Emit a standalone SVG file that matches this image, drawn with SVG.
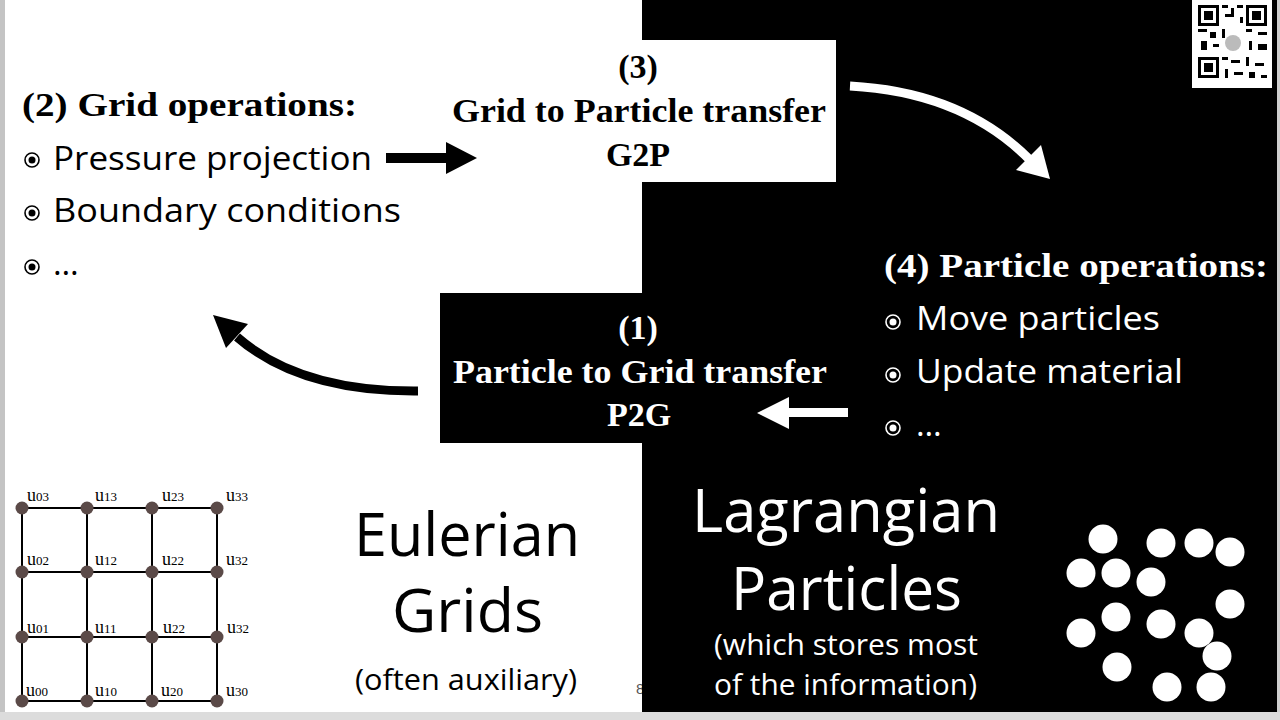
<svg xmlns="http://www.w3.org/2000/svg" width="1280" height="720" viewBox="0 0 1280 720">
<style>
.hb{font-family:"Liberation Serif",serif;font-weight:bold;font-size:34px}
.rg{font-family:"Open Sans","DejaVu Sans",sans-serif;font-size:33px}
.big{font-family:"Open Sans","DejaVu Sans",sans-serif;font-size:60px}
.sm{font-family:"Open Sans","DejaVu Sans",sans-serif;font-size:29px}
.u{font-family:"Liberation Serif",serif;font-size:18px;fill:#000}
.u tspan{font-size:13px}
.blk{fill:#000}
.wht{fill:#fff}
.gl{stroke:#000;stroke-width:2;fill:none}
.gn{fill:#5b4a48}
.bw{fill:none;stroke:#000;stroke-width:1.6}
.bwW{fill:none;stroke:#fff;stroke-width:1.6}
</style>
<rect x="0" y="0" width="1280" height="720" fill="#fff"/>
<rect x="0" y="0" width="5" height="720" fill="#c4c4c4"/>
<rect x="0" y="712" width="1280" height="8" fill="#dcdcdc"/>
<text x="636" y="694" font-family="Liberation Sans,sans-serif" font-size="15" fill="#555">8</text>
<rect id="lagrangian-bg" x="642" y="0" width="635" height="712" fill="#000"/>
<rect x="1277" y="0" width="3" height="712" fill="#cfcfcf"/>

<g id="qr">
<rect x="1192" y="0" width="80" height="88" fill="#fff"/>
<g fill="#000">
<rect x="1198" y="5" width="21" height="21"/><rect x="1201" y="8" width="15" height="15" fill="#fff"/><rect x="1204" y="11" width="9" height="9"/>
<rect x="1246" y="5" width="21" height="21"/><rect x="1249" y="8" width="15" height="15" fill="#fff"/><rect x="1252" y="11" width="9" height="9"/>
<rect x="1198" y="57" width="21" height="21"/><rect x="1201" y="60" width="15" height="15" fill="#fff"/><rect x="1204" y="63" width="9" height="9"/>
<rect x="1222" y="5" width="6" height="3"/><rect x="1231" y="8" width="3" height="6"/><rect x="1237" y="5" width="6" height="3"/><rect x="1225" y="14" width="9" height="3"/><rect x="1240" y="17" width="3" height="6"/>
<rect x="1198" y="29" width="9" height="3"/><rect x="1210" y="32" width="6" height="6"/><rect x="1222" y="29" width="3" height="9"/><rect x="1246" y="29" width="6" height="3"/><rect x="1258" y="32" width="9" height="3"/>
<rect x="1201" y="41" width="6" height="9"/><rect x="1213" y="44" width="6" height="3"/><rect x="1249" y="41" width="3" height="9"/><rect x="1258" y="44" width="9" height="6"/>
<rect x="1222" y="57" width="6" height="3"/><rect x="1231" y="60" width="9" height="3"/><rect x="1246" y="57" width="3" height="9"/><rect x="1255" y="63" width="9" height="3"/>
<rect x="1225" y="69" width="3" height="9"/><rect x="1234" y="72" width="9" height="3"/><rect x="1249" y="72" width="6" height="6"/><rect x="1261" y="75" width="6" height="3"/>
</g>
<circle cx="1233" cy="43" r="8" fill="#bbb"/>
</g>

<g id="connectors">
<rect x="386" y="153" width="61" height="10" class="blk"/>
<polygon points="446,142 477,158 446,174" class="blk"/>
<path d="M850,86 Q962,92 1029,159" fill="none" stroke="#fff" stroke-width="9"/>
<polygon points="1016,170 1041,145 1050,179" class="wht"/>
<path d="M418,391 Q300,392 237,337" fill="none" stroke="#000" stroke-width="9"/>
<polygon points="248,324 226,348 213,315" class="blk"/>
<rect x="788" y="408" width="60" height="9" class="wht"/>
<polygon points="789,397 757,413 789,429" class="wht"/>
</g>

<g id="grid-ops">
<text x="22" y="116" class="hb" textLength="335" lengthAdjust="spacingAndGlyphs">(2) Grid operations:</text>
<circle cx="32" cy="160" r="7" class="bw"/><circle cx="32" cy="160" r="3.5" class="blk"/>
<text x="53" y="170" class="rg" textLength="319" lengthAdjust="spacingAndGlyphs">Pressure projection</text>
<circle cx="32" cy="213" r="7" class="bw"/><circle cx="32" cy="213" r="3.5" class="blk"/>
<text x="53" y="222" class="rg" textLength="348" lengthAdjust="spacingAndGlyphs">Boundary conditions</text>
<circle cx="32" cy="267" r="7" class="bw"/><circle cx="32" cy="267" r="3.5" class="blk"/>
<text x="53" y="275" class="rg">…</text>
</g>

<g id="g2p">
<rect x="642" y="40" width="194" height="142" fill="#fff"/>
<text x="638" y="78" class="hb" text-anchor="middle">(3)</text>
<text x="452" y="122" class="hb" textLength="374" lengthAdjust="spacingAndGlyphs">Grid to Particle transfer</text>
<text x="638" y="166" class="hb" text-anchor="middle">G2P</text>
</g>

<g id="p2g">
<rect x="440" y="293" width="202" height="150" fill="#000"/>
<text x="638" y="339" class="hb wht" text-anchor="middle">(1)</text>
<text x="453" y="383" class="hb wht" textLength="374" lengthAdjust="spacingAndGlyphs">Particle to Grid transfer</text>
<text x="639" y="426" class="hb wht" text-anchor="middle">P2G</text>
</g>

<g id="particle-ops">
<text x="884" y="277" class="hb wht" textLength="384" lengthAdjust="spacingAndGlyphs">(4) Particle operations:</text>
<circle cx="893" cy="322" r="7" class="bwW"/><circle cx="893" cy="322" r="3.5" class="wht"/>
<text x="916" y="330" class="rg wht" textLength="244" lengthAdjust="spacingAndGlyphs">Move particles</text>
<circle cx="893" cy="375" r="7" class="bwW"/><circle cx="893" cy="375" r="3.5" class="wht"/>
<text x="916" y="383" class="rg wht" textLength="267" lengthAdjust="spacingAndGlyphs">Update material</text>
<circle cx="893" cy="428" r="7" class="bwW"/><circle cx="893" cy="428" r="3.5" class="wht"/>
<text x="916" y="436" class="rg wht">…</text>
</g>

<g id="eulerian-label">
<text x="354" y="556" class="big" textLength="226" lengthAdjust="spacingAndGlyphs">Eulerian</text>
<text x="392" y="632" class="big" textLength="151" lengthAdjust="spacingAndGlyphs">Grids</text>
<text x="355" y="690" class="sm" textLength="222" lengthAdjust="spacingAndGlyphs">(often auxiliary)</text>
</g>

<g id="lagrangian-label" fill="#fff">
<text x="692" y="532" class="big" textLength="308" lengthAdjust="spacingAndGlyphs">Lagrangian</text>
<text x="731" y="610" class="big" textLength="231" lengthAdjust="spacingAndGlyphs">Particles</text>
<text x="714" y="655" class="sm" textLength="264" lengthAdjust="spacingAndGlyphs">(which stores most</text>
<text x="714" y="695" class="sm" textLength="263" lengthAdjust="spacingAndGlyphs">of the information)</text>
</g>

<g id="grid">
<path class="gl" d="M22,508H217M22,572H217M22,637H217M22,701H217M22,508V701M87,508V701M152,508V701M217,508V701"/>
<g class="gn">
<circle cx="22" cy="508" r="6.5"/><circle cx="87" cy="508" r="6.5"/><circle cx="152" cy="508" r="6.5"/><circle cx="217" cy="508" r="6.5"/>
<circle cx="22" cy="572" r="6.5"/><circle cx="87" cy="572" r="6.5"/><circle cx="152" cy="572" r="6.5"/><circle cx="217" cy="572" r="6.5"/>
<circle cx="22" cy="637" r="6.5"/><circle cx="87" cy="637" r="6.5"/><circle cx="152" cy="637" r="6.5"/><circle cx="217" cy="637" r="6.5"/>
<circle cx="22" cy="701" r="6.5"/><circle cx="87" cy="701" r="6.5"/><circle cx="152" cy="701" r="6.5"/><circle cx="217" cy="701" r="6.5"/>
</g>
<text x="27" y="501" class="u">u<tspan>03</tspan></text>
<text x="95" y="501" class="u">u<tspan>13</tspan></text>
<text x="162" y="501" class="u">u<tspan>23</tspan></text>
<text x="226" y="501" class="u">u<tspan>33</tspan></text>
<text x="27" y="565" class="u">u<tspan>02</tspan></text>
<text x="95" y="565" class="u">u<tspan>12</tspan></text>
<text x="162" y="565" class="u">u<tspan>22</tspan></text>
<text x="226" y="565" class="u">u<tspan>32</tspan></text>
<text x="27" y="633" class="u">u<tspan>01</tspan></text>
<text x="95" y="633" class="u">u<tspan>11</tspan></text>
<text x="163" y="633" class="u">u<tspan>22</tspan></text>
<text x="227" y="633" class="u">u<tspan>32</tspan></text>
<text x="26" y="696" class="u">u<tspan>00</tspan></text>
<text x="95" y="696" class="u">u<tspan>10</tspan></text>
<text x="161" y="696" class="u">u<tspan>20</tspan></text>
<text x="226" y="696" class="u">u<tspan>30</tspan></text>
</g>

<g id="particles" fill="#fff">
<circle cx="1103" cy="539" r="14.5"/><circle cx="1161" cy="543" r="14.5"/><circle cx="1199" cy="543" r="14.5"/><circle cx="1230" cy="552" r="14.5"/>
<circle cx="1081" cy="573" r="14.5"/><circle cx="1116" cy="573" r="14.5"/><circle cx="1151" cy="582" r="14.5"/><circle cx="1230" cy="604" r="14.5"/>
<circle cx="1116" cy="617" r="14.5"/><circle cx="1161" cy="624" r="14.5"/><circle cx="1081" cy="633" r="14.5"/><circle cx="1199" cy="633" r="14.5"/>
<circle cx="1217" cy="656" r="14.5"/><circle cx="1117" cy="667" r="14.5"/><circle cx="1167" cy="687" r="14.5"/><circle cx="1211" cy="687" r="14.5"/>
</g>
</svg>
